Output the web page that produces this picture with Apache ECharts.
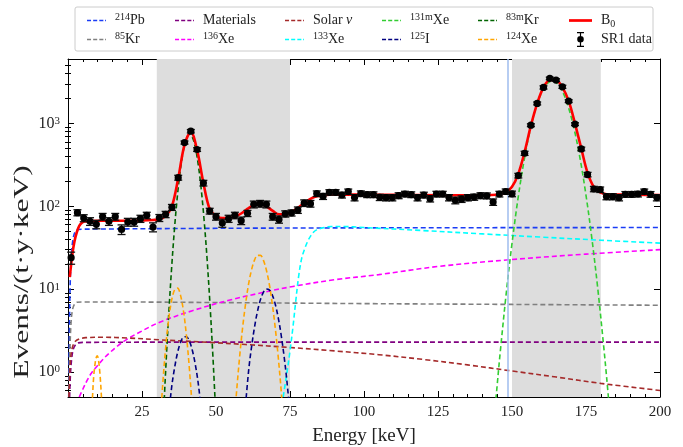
<!DOCTYPE html>
<html>
<head>
<meta charset="utf-8">
<script src="https://cdn.jsdelivr.net/npm/echarts@6/dist/echarts.min.js"></script>
<style>
  html, body { margin: 0; padding: 0; background: #fff; }
  #chart { width: 683px; height: 447px; }
</style>
</head>
<body>
<div id="chart"></div>
<script>
// SR1 data: bin centres [keV], rate, error
const binE = [1.06, 3.19, 5.32, 7.45, 9.57, 11.70, 13.83, 15.96, 18.09, 20.21,
  22.34, 24.47, 26.60, 28.72, 30.85, 32.98, 35.11, 37.23, 39.36, 41.49,
  43.62, 45.74, 47.87, 50.00, 52.13, 54.26, 56.38, 58.51, 60.64, 62.77,
  64.89, 67.02, 69.15, 71.28, 73.40, 75.53, 77.66, 79.79, 81.91, 84.04,
  86.17, 88.30, 90.43, 92.55, 94.68, 96.81, 98.94, 101.06, 103.19, 105.32,
  107.45, 109.57, 111.70, 113.83, 115.96, 118.09, 120.21, 122.34, 124.47, 126.60,
  128.72, 130.85, 132.98, 135.11, 137.23, 139.36, 141.49, 143.62, 145.74, 147.87,
  150.00, 152.13, 154.26, 156.38, 158.51, 160.64, 162.77, 164.89, 167.02, 169.15,
  171.28, 173.40, 175.53, 177.66, 179.79, 181.91, 184.04, 186.17, 188.30, 190.43,
  192.55, 194.68, 196.81, 198.94];
const counts = [24.0, 83.9, 72.2, 65.9, 60.6, 75.1, 65.9, 75.1, 52.7, 64.6,
  64.6, 71.0, 77.8, 56.2, 72.6, 80.0, 97.3, 222, 589, 807,
  485, 191, 87.7, 75.1, 62.9, 71.0, 77.8, 67.2, 82.3, 105.7,
  107.8, 105.7, 75.1, 69.6, 81.2, 83.4, 90.2, 109.6, 107.8, 142.4,
  132.1, 147.6, 147.6, 137.0, 150.6, 127.4, 142.4, 138.5, 138.5, 128.5,
  127.4, 127.4, 134.7, 140.8, 138.5, 127.4, 137.0, 123.9, 140.8, 140.8,
  127.4, 118.2, 122.5, 127.4, 129.5, 134.7, 134.0, 112.7, 140.8, 151.0,
  141.6, 235, 437, 953, 1746, 2724, 3500, 3340, 2772, 1861,
  981, 493, 242, 162, 159, 131, 131, 127.4, 139.7, 139.7,
  140.8, 150.6, 139.7, 127.4];
const errs = [4, 7, 7, 7, 7, 7, 7, 7, 7, 7,
  7, 7, 7, 7, 7, 7, 8, 15, 25, 38,
  25, 15, 7, 7, 7, 7, 7, 7, 7, 10,
  10, 10, 7, 7, 7, 7, 8, 10, 10, 11,
  11, 11, 11, 11, 11, 11, 11, 11, 11, 11,
  11, 11, 11, 11, 11, 11, 11, 11, 11, 11,
  11, 11, 11, 11, 11, 11, 11, 10, 11, 11,
  11, 15, 25, 38, 70, 120, 120, 120, 120, 70,
  38, 25, 15, 12, 12, 11, 11, 11, 11, 11,
  11, 11, 11, 11];

// model components
const pbE = [0.25, 0.5, 0.8, 1.2, 1.8, 2.5, 3.4, 5, 10, 30, 60, 100, 150, 200];
const pbV = [0.5, 4, 14, 28, 42, 50, 52.5, 53, 53.2, 53.8, 54.5, 55, 55.3, 55.5];
const kr85E = [0.3, 0.6, 1.0, 1.5, 2.2, 3.0, 5, 20, 50, 100, 150, 200];
const kr85V = [0.5, 1.6, 3.8, 5.6, 6.6, 6.95, 7.0, 7.0, 6.9, 6.7, 6.55, 6.4];
const matE = [0.55, 0.8, 1.2, 1.8, 2.6, 3.5, 5, 50, 100, 150, 200];
const matV = [0.5, 0.9, 1.4, 1.9, 2.15, 2.25, 2.28, 2.3, 2.3, 2.3, 2.3];
const solarE = [0.3, 0.6, 1.0, 1.6, 2.5, 4, 6, 12, 20, 31, 47, 60, 75, 90, 105, 120, 135, 150, 165, 180, 200];
const solarV = [0.5, 1.0, 1.6, 2.05, 2.35, 2.52, 2.6, 2.63, 2.58, 2.45, 2.29, 2.15, 1.98, 1.8, 1.62, 1.42, 1.22, 1.03, 0.87, 0.73, 0.6];
const xe136E = [3.8, 5, 6.5, 8, 10, 12, 14, 17, 20, 24, 31, 42, 54, 65, 76, 90, 105, 125, 150, 175, 200];
const xe136V = [0.5, 0.62, 0.8, 0.98, 1.2, 1.45, 1.7, 2.1, 2.5, 3.0, 4.0, 5.5, 7.3, 9.0, 10.8, 13, 15, 18.8, 22.8, 26.5, 30];
const xe133E = [72.7, 74, 75, 76, 77, 78, 79, 80, 81, 82, 83, 84, 86, 89, 93, 100, 120, 140, 160, 180, 200];
const xe133V = [0.5, 1.0, 1.8, 3.5, 7.5, 15, 24, 31, 38, 44, 49, 52, 55, 57, 57, 55.5, 51, 46.5, 42.5, 39, 36];
const xe131E = [143, 144, 145, 146, 148, 150, 152, 154, 156, 158, 160, 162, 163.6, 165, 167, 169, 171, 173, 175, 177, 179, 181, 182, 183];
const xe131V = [0.1, 0.28, 0.7, 1.7, 8.6, 35.7, 122, 343, 793, 1512, 2370, 3054, 3250, 3098, 2452, 1596, 855, 377, 136, 40.6, 10, 2.0, 0.84, 0.33];
const i125E = [33.5, 35, 36, 37, 38, 39, 40, 41, 42, 43, 44, 45.5, 52, 59.5, 61, 62, 63, 64, 65, 66, 67, 68, 69, 70, 71, 72, 73, 74, 75.5];
const i125V = [0.2, 0.65, 1.12, 1.71, 2.27, 2.64, 2.67, 2.37, 1.83, 1.24, 0.73, 0.25, '-', 0.25, 1.02, 2.0, 3.47, 5.38, 7.44, 9.16, 10.05, 9.8, 8.55, 6.63, 4.58, 2.82, 1.55, 0.75, 0.2];
const kr83E = [32, 33, 34, 35, 36, 37, 38, 39, 40, 41, 42, 43, 44, 45, 46, 47, 48, 49, 50];
const kr83V = [0.19, 1.05, 4.8, 17.9, 55, 138, 283, 476, 656, 740, 682, 516, 319, 162, 67, 22.8, 6.3, 1.44, 0.27];
const xe124E = [7.6, 8.2, 8.7, 9.2, 9.6, 9.9, 10.3, 10.8, 11.3, 12, 20, 31, 32, 33, 34, 35, 36, 37, 38, 39, 40, 41, 42, 43,
  50, 56, 57, 58, 59, 60, 61, 62, 63, 64, 65, 66, 67, 68, 69, 70, 71, 72, 73];
const xe124V = [0.2, 0.45, 0.9, 1.3, 1.52, 1.57, 1.4, 0.95, 0.5, 0.15, '-', 0.2, 0.71, 1.98, 4.3, 7.33, 9.8, 10.3, 8.47, 5.48, 2.78, 1.11, 0.35, 0.08,
  '-', 0.21, 0.61, 1.55, 3.46, 6.7, 11.5, 17.1, 22.4, 25.6, 25.6, 22.4, 17.1, 11.5, 6.7, 3.46, 1.55, 0.61, 0.21];
const redE = [0.6, 1.0, 1.5, 2.2, 3.0, 3.8, 4.6, 5.5, 7.5, 10, 15, 20, 25, 28.7, 30.9, 33.0, 35.1, 37.2, 39.4, 41.5,
  43.6, 45.7, 47.9, 50.0, 52.1, 54.3, 56.4, 58.5, 60.6, 62.8, 64.9, 67.0, 69.2, 71.3, 73.4, 75.5, 77.7, 79.8, 81.9, 84.0,
  86.2, 88.3, 95, 105, 115, 125, 135, 142, 146, 148, 150, 152.1, 154.3, 156.4, 158.5, 160.6, 162.8, 164.9, 167.0, 169.2,
  171.3, 173.4, 175.5, 177.7, 179.8, 182, 186, 192, 200];
const redV = [14, 19, 27, 38, 49, 58, 63, 65.5, 66.5, 67, 67, 67, 67.5, 68.5, 70, 77, 100, 215, 560, 790,
  480, 195, 92, 77, 72, 72, 75, 82, 93, 104, 107, 100, 88, 80, 80, 86, 96, 110, 123, 132,
  136, 138, 139, 138, 137, 136, 136, 137, 139, 148, 172, 245, 460, 950, 1740, 2700, 3350, 3330, 2750, 1850,
  990, 500, 255, 170, 147, 140, 139, 138, 137];

const bands = [[30, 75], [150, 180]];
const thresholdE = 148.5;
const xTicks = [25, 50, 75, 100, 125, 150, 175, 200];
const yMajor = [1, 10, 100, 1000];
const yMinor = [0.6, 0.7, 0.8, 0.9, 2, 3, 4, 5, 6, 7, 8, 9, 20, 30, 40, 50, 60, 70, 80, 90,
  200, 300, 400, 500, 600, 700, 800, 900, 2000, 3000, 4000, 5000];

const FONT = '"Liberation Serif", "DejaVu Serif", serif';

const components = [
  { key: 'Pb', label: '{sup|214}Pb', color: '#1a3cf5', e: pbE, v: pbV },
  { key: 'Kr85', label: '{sup|85}Kr', color: '#808080', e: kr85E, v: kr85V },
  { key: 'Mat', label: 'Materials', color: '#800080', e: matE, v: matV },
  { key: 'Xe136', label: '{sup|136}Xe', color: '#ff00ff', e: xe136E, v: xe136V },
  { key: 'Solar', label: 'Solar {it|ν}', color: '#a52a2a', e: solarE, v: solarV },
  { key: 'Xe133', label: '{sup|133}Xe', color: '#00ffff', e: xe133E, v: xe133V },
  { key: 'Xe131m', label: '{sup|131m}Xe', color: '#32cd32', e: xe131E, v: xe131V },
  { key: 'I125', label: '{sup|125}I', color: '#000080', e: i125E, v: i125V },
  { key: 'Kr83m', label: '{sup|83m}Kr', color: '#006400', e: kr83E, v: kr83V },
  { key: 'Xe124', label: '{sup|124}Xe', color: '#ffa500', e: xe124E, v: xe124V }
];
const labels = { B0: 'B{sub|0}', SR1: 'SR1 data' };
components.forEach(c => { labels[c.key] = c.label; });

function pairs(xs, ys) {
  return xs.map((x, i) => [x, ys[i]]);
}

const chart = echarts.init(document.getElementById('chart'), null, { renderer: 'canvas' });

const series = [];
// shaded bands + threshold line
series.push({
  type: 'line', name: 'bands', data: [], z: 1, silent: true,
  markArea: {
    silent: true,
    itemStyle: { color: '#dddddd' },
    data: bands.map(b => [{ xAxis: b[0] }, { xAxis: b[1] }])
  },
  markLine: {
    silent: true, symbol: 'none', label: { show: false },
    lineStyle: { color: '#9fbcee', width: 1.5, type: 'solid' },
    data: [{ xAxis: thresholdE }]
  }
});
components.forEach(c => {
  series.push({
    type: 'line', name: c.key, data: pairs(c.e, c.v),
    symbol: 'none', smooth: 0.35, z: 3, clip: true,
    connectNulls: false,
    lineStyle: { color: c.color, width: 1.6, type: [5, 3] },
    itemStyle: { color: c.color }
  });
});
series.push({
  type: 'line', name: 'B0', data: pairs(redE, redV),
  symbol: 'none', smooth: 0.35, z: 5, clip: true,
  lineStyle: { color: '#ff0000', width: 2.6 },
  itemStyle: { color: '#ff0000' }
});
series.push({
  type: 'custom', name: 'SR1', z: 6,
  data: binE.map((x, i) => [x, counts[i], errs[i]]),
  encode: { x: 0, y: 1 },
  itemStyle: { color: '#000' },
  renderItem: function (params, api) {
    const x = api.value(0), y = api.value(1), e = api.value(2);
    const p = api.coord([x, y]);
    const lo = api.coord([x, y - e]);
    const hi = api.coord([x, y + e]);
    const cap = 4;
    const st = { stroke: '#111', lineWidth: 1.3 };
    return {
      type: 'group',
      children: [
        { type: 'line', shape: { x1: p[0], y1: lo[1], x2: p[0], y2: hi[1] }, style: st },
        { type: 'line', shape: { x1: p[0] - cap, y1: lo[1], x2: p[0] + cap, y2: lo[1] }, style: st },
        { type: 'line', shape: { x1: p[0] - cap, y1: hi[1], x2: p[0] + cap, y2: hi[1] }, style: st },
        { type: 'circle', shape: { cx: p[0], cy: p[1], r: 3.6 }, style: { fill: '#000' } }
      ]
    };
  }
});

// legend: 6 columns x 2 rows
const legendCols = [
  [82, ['Pb', 'Kr85']],
  [170, ['Mat', 'Xe136']],
  [280, ['Solar', 'Xe133']],
  [377, ['Xe131m', 'I125']],
  [473, ['Kr83m', 'Xe124']],
  [564, ['B0', 'SR1']]
];
const richText = {
  sup: { fontFamily: FONT, fontSize: 10, color: '#222', verticalAlign: 'top', lineHeight: 11 },
  sub: { fontFamily: FONT, fontSize: 10, color: '#222', verticalAlign: 'bottom', lineHeight: 11 },
  it: { fontFamily: FONT, fontSize: 14, fontStyle: 'italic', color: '#222', lineHeight: 17 }
};
const dashIcon = 'path://M0,0H4.6V1.7H0Z M7,0H11.6V1.7H7Z M14,0H18.6V1.7H14Z M20.6,0H21.6V1.7H20.6Z';
const solidIcon = 'path://M0,0H22V2.6H0Z';
const errIcon = 'path://M0,0H7V1.2H0Z M2.9,1.2H4.1V13.8H2.9Z M0,13.8H7V15H0Z M3.5,4A3.3,3.3 0 1 1 3.49,4Z';
const iconFor = n => (n === 'SR1' ? errIcon : (n === 'B0' ? solidIcon : dashIcon));
const legends = legendCols.map(col => ({
  orient: 'vertical', left: col[0], top: 7,
  itemWidth: col[0] === 564 ? 23 : 19, itemHeight: 15, itemGap: 2,
  selectedMode: false,
  data: col[1].map(n => ({ name: n, icon: iconFor(n) })),
  formatter: n => labels[n],
  textStyle: { fontFamily: FONT, fontSize: 14, color: '#222', lineHeight: 17, padding: [0, 0, 0, 4], rich: richText }
}));

const axisTickStyle = { lineStyle: { color: '#000', width: 1 } };

const option = {
  animation: false,
  backgroundColor: '#fff',
  grid: { left: 68, right: 23, top: 59, bottom: 50, outerBoundsMode: 'none' },
  graphic: [{
    type: 'rect', z: -1, silent: true,
    shape: { x: 75, y: 7, width: 578, height: 44, r: 2 },
    style: { fill: '#fff', stroke: '#cccccc', lineWidth: 1 }
  }, {
    // y-axis title
    type: 'text', silent: true,
    x: 22, y: 272, rotation: Math.PI / 2, scaleX: 1.5,
    style: {
      text: 'Events/(t·y·keV)', fontFamily: FONT, fontSize: 21, fill: '#222',
      align: 'center', verticalAlign: 'middle'
    }
  }],
  legend: legends,
  xAxis: [{
    type: 'value', min: 0, max: 200, interval: 25, position: 'bottom',
    name: 'Energy [keV]', nameLocation: 'middle', nameGap: 30,
    nameTextStyle: { fontFamily: FONT, fontSize: 19, color: '#222' },
    axisLine: { show: true, onZero: false, lineStyle: { color: '#000', width: 1 } },
    axisTick: Object.assign({ inside: true, length: 6 }, axisTickStyle),
    minorTick: Object.assign({ show: true, splitNumber: 5, length: 3 }, axisTickStyle),
    axisLabel: { fontFamily: FONT, fontSize: 15, color: '#222', margin: 8,
      formatter: v => (xTicks.indexOf(v) >= 0 ? String(v) : '') },
    splitLine: { show: false }
  }, {
    type: 'value', min: 0, max: 200, interval: 25, position: 'top',
    axisLine: { show: true, onZero: false, lineStyle: { color: '#000', width: 1 } },
    axisTick: Object.assign({ inside: true, length: 6 }, axisTickStyle),
    minorTick: Object.assign({ show: true, splitNumber: 5, length: 3 }, axisTickStyle),
    axisLabel: { show: false },
    splitLine: { show: false }
  }],
  yAxis: [{
    type: 'log', logBase: 10, min: 0.5, max: 6000, position: 'left',
    axisLine: { show: true, onZero: false, lineStyle: { color: '#000', width: 1 } },
    axisTick: Object.assign({ inside: true, length: 6, customValues: yMajor }, axisTickStyle),
    axisLabel: {
      customValues: yMajor, fontFamily: FONT, fontSize: 16, color: '#222', margin: 8,
      formatter: v => '10{sup|' + Math.round(Math.log10(v)) + '}',
      rich: { sup: { fontFamily: FONT, fontSize: 11, color: '#222', verticalAlign: 'top', lineHeight: 12 } }
    },
    splitLine: { show: false }
  }, {
    type: 'log', logBase: 10, min: 0.5, max: 6000, position: 'right',
    axisLine: { show: true, onZero: false, lineStyle: { color: '#000', width: 1 } },
    axisTick: Object.assign({ inside: true, length: 6, customValues: yMajor }, axisTickStyle),
    axisLabel: { show: false },
    splitLine: { show: false }
  }, {
    type: 'log', logBase: 10, min: 0.5, max: 6000, position: 'left',
    axisLine: { show: false },
    axisTick: Object.assign({ inside: true, length: 3, customValues: yMinor }, axisTickStyle),
    axisLabel: { show: false },
    splitLine: { show: false }
  }, {
    type: 'log', logBase: 10, min: 0.5, max: 6000, position: 'right',
    axisLine: { show: false },
    axisTick: Object.assign({ inside: true, length: 3, customValues: yMinor }, axisTickStyle),
    axisLabel: { show: false },
    splitLine: { show: false }
  }],
  series: series
};

chart.setOption(option);
</script>
</body>
</html>
